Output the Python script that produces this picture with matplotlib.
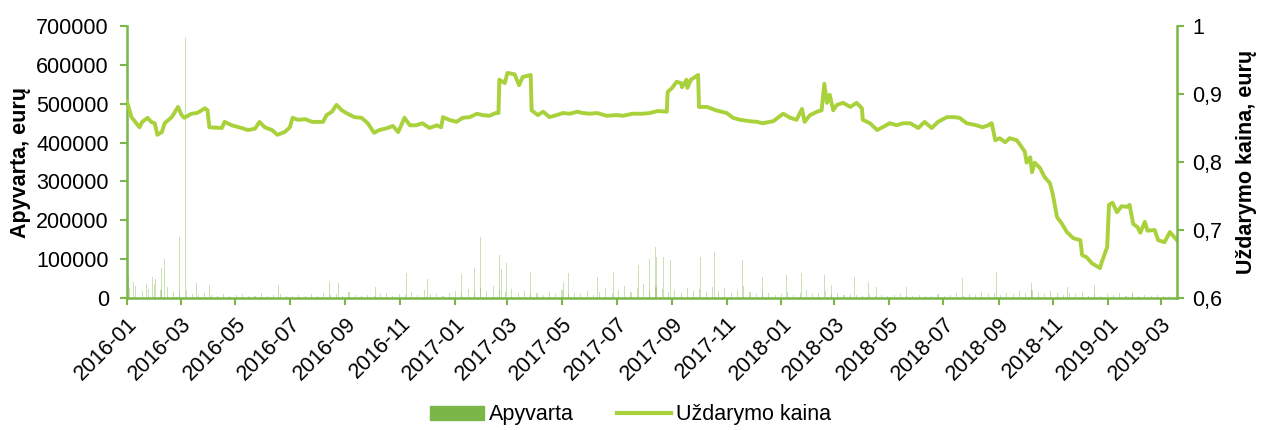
import matplotlib
matplotlib.use("Agg")
import matplotlib.pyplot as plt
import matplotlib.dates as mdates
from matplotlib.patches import Patch
from matplotlib.lines import Line2D
from matplotlib.ticker import FuncFormatter
import pandas as pd

plt.rcParams['font.family'] = ['Liberation Sans', 'DejaVu Sans']

# --- Uždarymo kaina ---
price_dates = [
    "2016-01-01", "2016-01-06", "2016-01-15", "2016-01-18", "2016-01-24", "2016-01-28",
    "2016-02-01", "2016-02-04", "2016-02-09", "2016-02-12", "2016-02-20", "2016-02-27",
    "2016-03-02", "2016-03-05", "2016-03-13", "2016-03-19", "2016-03-22", "2016-03-28",
    "2016-03-31", "2016-04-02", "2016-04-16", "2016-04-19", "2016-04-27", "2016-05-08",
    "2016-05-15", "2016-05-23", "2016-05-28", "2016-06-03", "2016-06-11", "2016-06-17",
    "2016-06-25", "2016-07-01", "2016-07-04", "2016-07-10", "2016-07-18", "2016-07-26",
    "2016-08-01", "2016-08-07", "2016-08-11", "2016-08-17", "2016-08-22", "2016-08-28",
    "2016-09-02", "2016-09-11", "2016-09-19", "2016-09-26", "2016-10-03", "2016-10-09",
    "2016-10-18", "2016-10-24", "2016-10-30", "2016-11-06", "2016-11-12", "2016-11-19",
    "2016-11-26", "2016-12-04", "2016-12-12", "2016-12-17", "2016-12-19", "2016-12-26",
    "2017-01-03", "2017-01-10", "2017-01-18", "2017-01-26", "2017-02-01", "2017-02-09",
    "2017-02-16", "2017-02-19", "2017-02-20", "2017-02-26", "2017-03-01", "2017-03-09",
    "2017-03-14", "2017-03-18", "2017-03-27", "2017-03-28", "2017-04-04", "2017-04-10",
    "2017-04-17", "2017-04-25", "2017-05-02", "2017-05-10", "2017-05-18", "2017-05-24",
    "2017-06-01", "2017-06-09", "2017-06-20", "2017-07-01", "2017-07-08", "2017-07-19",
    "2017-07-30", "2017-08-07", "2017-08-16", "2017-08-26", "2017-08-27", "2017-09-01",
    "2017-09-06", "2017-09-11", "2017-09-12", "2017-09-17", "2017-09-18", "2017-09-22",
    "2017-09-30", "2017-10-01", "2017-10-10", "2017-10-20", "2017-11-01", "2017-11-08",
    "2017-11-16", "2017-11-27", "2017-12-05", "2017-12-11", "2017-12-23", "2018-01-03",
    "2018-01-11", "2018-01-18", "2018-01-24", "2018-01-27", "2018-02-02", "2018-02-10",
    "2018-02-15", "2018-02-18", "2018-02-21", "2018-02-24", "2018-02-28", "2018-03-04",
    "2018-03-11", "2018-03-19", "2018-03-26", "2018-04-01", "2018-04-02", "2018-04-10",
    "2018-04-18", "2018-04-24", "2018-05-02", "2018-05-10", "2018-05-17", "2018-05-25",
    "2018-06-03", "2018-06-10", "2018-06-18", "2018-06-25", "2018-07-05", "2018-07-12",
    "2018-07-19", "2018-07-27", "2018-08-07", "2018-08-14", "2018-08-20", "2018-08-24",
    "2018-08-28", "2018-09-02", "2018-09-08", "2018-09-13", "2018-09-21", "2018-09-27",
    "2018-09-30", "2018-10-02", "2018-10-06", "2018-10-08", "2018-10-11", "2018-10-17",
    "2018-10-22", "2018-10-28", "2018-10-31", "2018-11-05", "2018-11-10", "2018-11-16",
    "2018-11-23", "2018-12-01", "2018-12-03", "2018-12-08", "2018-12-14", "2018-12-23",
    "2018-12-25", "2018-12-31", "2019-01-02", "2019-01-06", "2019-01-11", "2019-01-16",
    "2019-01-22", "2019-01-25", "2019-01-29", "2019-02-03", "2019-02-06", "2019-02-11",
    "2019-02-14", "2019-02-22", "2019-02-26", "2019-03-05", "2019-03-11", "2019-03-19",
]
price_values = [
    0.889, 0.866, 0.851, 0.859, 0.865, 0.859,
    0.857, 0.840, 0.844, 0.857, 0.866, 0.881,
    0.869, 0.865, 0.871, 0.872, 0.874, 0.879,
    0.876, 0.851, 0.850, 0.859, 0.854, 0.850,
    0.847, 0.849, 0.859, 0.851, 0.847, 0.840,
    0.844, 0.851, 0.865, 0.862, 0.863, 0.859,
    0.859, 0.859, 0.869, 0.874, 0.884, 0.876,
    0.872, 0.866, 0.865, 0.857, 0.843, 0.847,
    0.850, 0.853, 0.844, 0.865, 0.854, 0.854,
    0.857, 0.850, 0.854, 0.851, 0.866, 0.862,
    0.859, 0.865, 0.866, 0.871, 0.869, 0.868,
    0.872, 0.872, 0.921, 0.916, 0.931, 0.929,
    0.913, 0.925, 0.928, 0.876, 0.869, 0.874,
    0.866, 0.869, 0.872, 0.871, 0.874, 0.872,
    0.871, 0.872, 0.868, 0.869, 0.868, 0.871,
    0.871, 0.872, 0.875, 0.874, 0.903, 0.909,
    0.918, 0.916, 0.910, 0.921, 0.909, 0.921,
    0.928, 0.881, 0.881, 0.876, 0.872, 0.865,
    0.862, 0.860, 0.859, 0.857, 0.860, 0.871,
    0.865, 0.862, 0.878, 0.859, 0.869, 0.874,
    0.876, 0.915, 0.887, 0.899, 0.876, 0.884,
    0.887, 0.881, 0.887, 0.879, 0.862, 0.857,
    0.847, 0.851, 0.857, 0.854, 0.857, 0.857,
    0.850, 0.859, 0.850, 0.859, 0.866, 0.866,
    0.865, 0.857, 0.854, 0.851, 0.854, 0.857,
    0.832, 0.835, 0.829, 0.835, 0.832, 0.821,
    0.815, 0.799, 0.807, 0.785, 0.799, 0.791,
    0.778, 0.769, 0.754, 0.719, 0.710, 0.697,
    0.688, 0.685, 0.663, 0.660, 0.651, 0.644,
    0.653, 0.675, 0.737, 0.740, 0.726, 0.735,
    0.734, 0.737, 0.709, 0.704, 0.696, 0.712,
    0.699, 0.700, 0.685, 0.682, 0.697, 0.685,
]

# --- Apyvarta: weekly background level (eur) ---
turnover_week_start = "2016-01-04"
turnover_weekly = [
    25000, 30000, 18000, 22000, 35000, 20000, 28000, 15000, 12000, 20000, 10000, 8000, 14000,
    8000, 6000, 10000, 5000, 7000, 9000, 4000, 6000, 12000, 5000, 8000, 10000, 6000,
    5000, 7000, 4000, 9000, 6000, 12000, 8000, 10000, 5000, 15000, 7000, 6000, 8000,
    5000, 9000, 12000, 6000, 10000, 8000, 15000, 7000, 20000, 9000, 11000, 6000, 13000,
    18000, 12000, 22000, 15000, 25000, 18000, 30000, 20000, 15000, 22000, 12000, 18000, 10000,
    12000, 8000, 15000, 10000, 20000, 9000, 14000, 11000, 18000, 8000, 16000, 25000, 12000,
    20000, 30000, 15000, 25000, 35000, 18000, 28000, 22000, 15000, 20000, 12000, 25000, 18000,
    22000, 15000, 28000, 18000, 25000, 12000, 20000, 30000, 15000, 10000, 18000, 12000, 8000,
    10000, 15000, 8000, 12000, 20000, 10000, 14000, 18000, 9000, 12000, 7000, 10000, 8000,
    6000, 9000, 5000, 8000, 4000, 7000, 10000, 5000, 6000, 8000, 4000, 6000, 9000,
    5000, 8000, 12000, 6000, 10000, 7000, 15000, 9000, 12000, 8000, 14000, 10000, 18000,
    12000, 20000, 15000, 10000, 18000, 12000, 8000, 14000, 10000, 15000, 6000, 9000, 5000,
    10000, 7000, 12000, 6000, 9000, 5000, 8000, 4000, 7000, 5000, 6000, 4000,
]

# --- Apyvarta: single large trading days ---
spike_dates = [
    "2016-01-03", "2016-01-08", "2016-01-23", "2016-01-30", "2016-02-02", "2016-02-09",
    "2016-02-12", "2016-02-27", "2016-02-29", "2016-03-06", "2016-03-19", "2016-03-27",
    "2016-04-02", "2016-06-18", "2016-08-14", "2016-08-24", "2016-10-05", "2016-11-08",
    "2016-12-02", "2016-12-19", "2017-01-09", "2017-01-23", "2017-01-30", "2017-02-20",
    "2017-02-22", "2017-02-28", "2017-03-27", "2017-05-03", "2017-05-08", "2017-06-10",
    "2017-06-27", "2017-07-17", "2017-07-25", "2017-08-07", "2017-08-13", "2017-08-15",
    "2017-08-22", "2017-08-30", "2017-10-03", "2017-10-18", "2017-11-08", "2017-11-19",
    "2017-12-11", "2018-01-07", "2018-01-24", "2018-02-18", "2018-02-26", "2018-03-24",
    "2018-04-08", "2018-04-17", "2018-05-21", "2018-07-22", "2018-08-12", "2018-08-29",
    "2018-10-07", "2018-11-17", "2018-12-17", "2019-01-28",
]
spike_values = [
    60000, 41000, 36000, 54000, 49000, 77000,
    100000, 51000, 157000, 669000, 39000, 311000,
    33000, 33000, 41000, 39000, 28000, 64000,
    49000, 82000, 62000, 77000, 157000, 110000,
    75000, 90000, 67000, 40000, 64000, 54000,
    67000, 90000, 85000, 100000, 131000, 105000,
    105000, 98000, 105000, 118000, 126000, 98000,
    54000, 59000, 64000, 59000, 33000, 54000,
    41000, 28000, 28000, 51000, 59000, 67000,
    39000, 28000, 33000, 15000,
]

x_start, x_end = "2016-01-01", "2019-03-19"

bar_color = "#7ab648"
line_color = "#a9d13b"
axis_color = "#7ab648"

fig = plt.figure(figsize=(12.61, 4.30), dpi=100)
ax = fig.add_axes([0.1007, 0.307, 0.8327, 0.6325])
ax2 = ax.twinx()

# bars
week_dates = pd.date_range(turnover_week_start, periods=len(turnover_weekly), freq="W-MON")
ax.bar(week_dates, turnover_weekly, width=1.2, color=bar_color, alpha=0.4, linewidth=0)
ax.bar(pd.to_datetime(spike_dates), spike_values, width=1.0, color=bar_color, alpha=0.4, linewidth=0)

# line
ax2.plot(pd.to_datetime(price_dates), price_values, color=line_color, linewidth=2.8)

ax.set_xlim(pd.Timestamp(x_start), pd.Timestamp(x_end))
ax.set_ylim(0, 700000)
ax.set_yticks(range(0, 700001, 100000))
ax2.set_ylim(0.6, 1.0)
ax2.set_yticks([0.6, 0.7, 0.8, 0.9, 1.0])
ax2.yaxis.set_major_formatter(FuncFormatter(lambda v, p: "1" if v == 1 else f"{v:.1f}".replace(".", ",")))

ax.xaxis.set_major_locator(mdates.MonthLocator(bymonth=[1, 3, 5, 7, 9, 11]))
ax.xaxis.set_major_formatter(mdates.DateFormatter("%Y-%m"))
plt.setp(ax.get_xticklabels(), rotation=45, ha="right", rotation_mode="anchor")

for a in (ax, ax2):
    a.spines["top"].set_visible(False)
    for s in ("left", "right", "bottom"):
        a.spines[s].set_color(axis_color)
        a.spines[s].set_linewidth(1.8)
    a.tick_params(colors=axis_color, labelcolor="black", labelsize=15.5, width=1.5, length=5)
ax.spines["right"].set_visible(False)
ax2.spines["left"].set_visible(False)
ax2.spines["bottom"].set_visible(False)
ax.tick_params(axis="x", pad=6)
ax.tick_params(axis="y", pad=8)
ax2.tick_params(axis="y", pad=6)

ax.set_ylabel("Apyvarta, eurų", fontsize=15.5, fontweight="bold", labelpad=4)
ax2.set_ylabel("Uždarymo kaina, eurų", fontsize=15.5, fontweight="bold", labelpad=10)

handles = [Patch(color=bar_color), Line2D([0], [0], color=line_color, linewidth=3)]
fig.legend(handles, ["Apyvarta", "Uždarymo kaina"], loc="center", bbox_to_anchor=(0.5, 0.035),
           ncol=2, frameon=False, fontsize=15.5, handlelength=2.5, columnspacing=2.0,
           handletextpad=0.25, handleheight=0.6)

fig.savefig("out.png", dpi=100)
